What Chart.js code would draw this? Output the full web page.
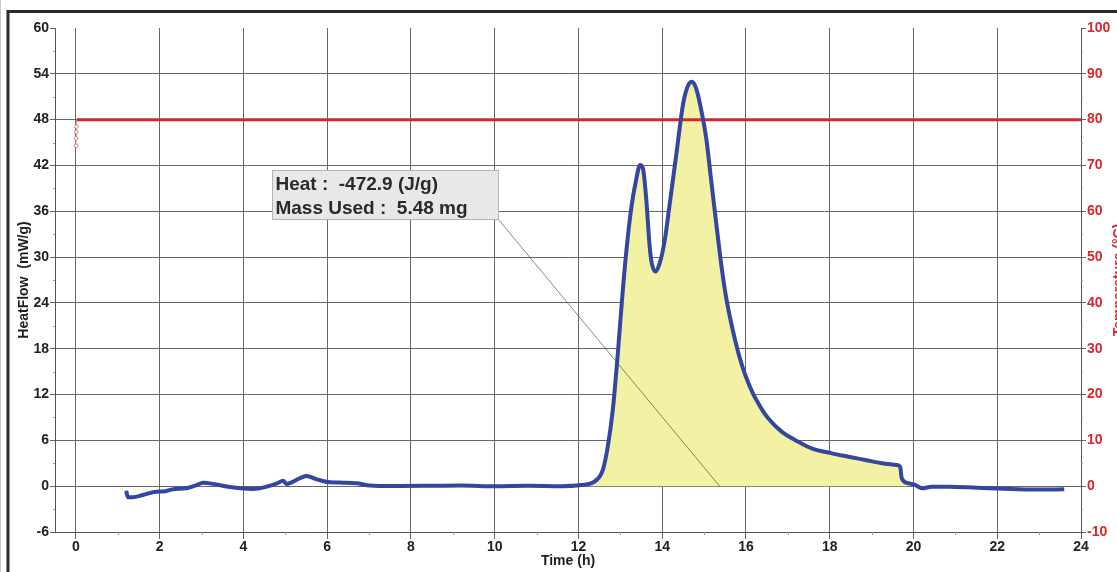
<!DOCTYPE html>
<html>
<head>
<meta charset="utf-8">
<script src="https://cdn.jsdelivr.net/npm/chart.js@4/dist/chart.umd.min.js"></script>
<style>
  html, body { margin: 0; padding: 0; background: #fff; }
  #wrap { width: 1117px; height: 572px; position: relative; }
</style>
</head>
<body>
<div id="wrap"><canvas id="c" width="1117" height="572"></canvas></div>
<script>
// Isothermal heat-flow run: time (h) vs heat flow (mW/g)
const timeH = [
  1.20, 1.24, 1.36, 1.60, 1.92, 2.08, 2.32, 2.64, 2.88, 3.04,
  3.28, 3.60, 3.92, 4.23, 4.56, 4.80, 4.95, 5.03, 5.19, 5.39,
  5.51, 5.75, 6.07, 6.39, 6.71, 6.95, 7.35, 7.74, 8.50, 9.20,
  10.00, 10.80, 11.58, 12.06, 12.38, 12.58, 12.70, 12.82, 12.94, 13.04,
  13.14, 13.26, 13.38, 13.47, 13.54, 13.62, 13.70, 13.75, 13.84, 13.94,
  14.06, 14.17, 14.34, 14.50, 14.62, 14.71, 14.81, 14.93, 15.05, 15.17,
  15.29, 15.41, 15.53, 15.67, 15.81, 15.93, 16.05, 16.17, 16.29, 16.41,
  16.53, 16.85, 17.25, 17.57, 18.05, 18.45, 18.85, 19.25, 19.60, 19.68,
  19.72, 19.88, 20.04, 20.20, 20.44, 20.84, 21.50, 22.00, 22.50, 23.00,
  23.60
];
const heatFlow = [
  -0.60, -1.45, -1.45, -1.15, -0.72, -0.70, -0.40, -0.28, 0.15, 0.46,
  0.30, -0.05, -0.28, -0.37, -0.05, 0.38, 0.72, 0.29, 0.60, 1.16,
  1.33, 0.90, 0.50, 0.46, 0.38, 0.12, 0.03, 0.03, 0.05, 0.08,
  0.00, 0.05, 0.00, 0.15, 0.60, 2.10, 5.20, 10.00, 17.40, 24.40,
  30.60, 36.40, 40.20, 42.06, 41.60, 37.50, 31.40, 29.20, 28.10, 29.20,
  32.20, 36.60, 43.60, 50.10, 52.50, 52.97, 52.10, 49.30, 45.60, 40.00,
  34.40, 29.00, 24.60, 20.80, 17.60, 15.40, 13.60, 12.10, 10.90, 9.80,
  8.90, 7.14, 5.83, 4.96, 4.30, 3.86, 3.43, 3.00, 2.78, 2.55,
  1.03, 0.38, 0.16, -0.28, -0.07, -0.07, -0.20, -0.30, -0.40, -0.45,
  -0.40
];

// Sample temperature (°C), right axis
const tempTime = [0.000, 0.004, 0.008, 0.012, 0.020, 24.0];
const tempC    = [74.3, 75.9, 77.3, 78.5, 80.0, 80.0];

// Integrated exotherm window
const peakStart = 12.0;
const peakEnd = 19.9;

// Axis ticks
const timeTicks = [0, 2, 4, 6, 8, 10, 12, 14, 16, 18, 20, 22, 24];
const heatTicks = [-6, 0, 6, 12, 18, 24, 30, 36, 42, 48, 54, 60];
const tempTicks = [-10, 0, 10, 20, 30, 40, 50, 60, 70, 80, 90, 100];
const timeMinor = [1, 3, 5, 7, 9, 11, 13, 15, 17, 19, 21, 23];
const heatMinor = [-3, 3, 9, 15, 21, 27, 33, 39, 45, 51, 57];
const tempMinor = [-5, 5, 15, 25, 35, 45, 55, 65, 75, 85, 95];

// Axis titles
const xTitle = 'Time (h)';
const yTitle = 'HeatFlow  (mW/g)';
const y2Title = 'Temperature (°C)';

// Result callout
const calloutLines = ['Heat :  -472.9 (J/g)', 'Mass Used :  5.48 mg'];
const calloutAnchor = { x: 4.68, y: 41.4 };   // top-left corner, data units
const calloutTarget = { x: 15.37, y: 0 };     // leader-line end, data units

const FONT = "'Liberation Sans', Arial, Helvetica, sans-serif";
const RED = '#d8262c';
const BLUE = '#3446a2';
const GRID = '#666';

Chart.defaults.font.family = FONT;

const heatPts = timeH.map((t, i) => ({ x: t, y: heatFlow[i] }));
const peakPts = heatPts.filter(p => p.x >= peakStart && p.x <= peakEnd);
const tempPts = tempTime.map((t, i) => ({ x: t, y: tempC[i] }));

const setTicks = vals => scale => { scale.ticks = vals.map(v => ({ value: v })); };

// Outer frame and white background
const framePlugin = {
  id: 'frame',
  beforeDraw(chart) {
    const c = chart.ctx;
    c.save();
    c.fillStyle = '#fff';
    c.fillRect(0, 0, chart.width, chart.height);
    c.strokeStyle = '#c8c8c8';
    c.lineWidth = 1;
    c.beginPath(); c.moveTo(0.5, 0); c.lineTo(0.5, chart.height); c.stroke();
    c.strokeStyle = '#2b2b2b';
    c.lineWidth = 3;
    c.beginPath();
    c.moveTo(8, chart.height + 2);
    c.lineTo(8, 11.5);
    c.lineTo(chart.width + 2, 11.5);
    c.stroke();
    c.restore();
  }
};

// Small minor tick marks outside the axes
const minorTickPlugin = {
  id: 'minorTicks',
  afterDraw(chart) {
    const c = chart.ctx, a = chart.chartArea, s = chart.scales;
    c.save();
    c.strokeStyle = '#9a9a9a';
    c.lineWidth = 1;
    c.beginPath();
    timeMinor.forEach(v => {
      const px = Math.round(s.x.getPixelForValue(v)) + 0.5;
      c.moveTo(px, a.bottom); c.lineTo(px, a.bottom + 3);
    });
    heatMinor.forEach(v => {
      const py = Math.round(s.y.getPixelForValue(v)) + 0.5;
      c.moveTo(a.left - 2, py); c.lineTo(a.left, py);
    });
    tempMinor.forEach(v => {
      const py = Math.round(s.yT.getPixelForValue(v)) + 0.5;
      c.moveTo(a.right, py); c.lineTo(a.right + 2, py);
    });
    c.stroke();
    c.restore();
  }
};

// Axis titles
const titlePlugin = {
  id: 'axisTitles',
  afterDraw(chart) {
    const c = chart.ctx, a = chart.chartArea;
    const midY = (a.top + a.bottom) / 2;
    c.save();
    c.font = 'bold 14px ' + FONT;
    c.textAlign = 'center';
    c.textBaseline = 'middle';
    c.fillStyle = '#1e1e1e';
    c.fillText(xTitle, (a.left + a.right) / 2, 561);
    c.save();
    c.translate(24, midY);
    c.rotate(-Math.PI / 2);
    c.fillText(yTitle, 0, 0);
    c.restore();
    c.save();
    c.translate(1119.5, midY);
    c.rotate(-Math.PI / 2);
    c.fillStyle = RED;
    c.fillText(y2Title, 0, 0);
    c.restore();
    c.restore();
  }
};

// Heat / mass callout with leader line
const calloutPlugin = {
  id: 'callout',
  afterDatasetsDraw(chart) {
    const c = chart.ctx, s = chart.scales;
    const bx = s.x.getPixelForValue(calloutAnchor.x);
    const by = s.y.getPixelForValue(calloutAnchor.y);
    c.save();
    c.font = 'bold 19px ' + FONT;
    const tw = Math.max(...calloutLines.map(l => c.measureText(l).width));
    const bw = tw + 34, bh = 49;
    const tx = s.x.getPixelForValue(calloutTarget.x);
    const ty = s.y.getPixelForValue(calloutTarget.y);
    c.strokeStyle = 'rgba(95,70,70,0.85)';
    c.lineWidth = 0.8;
    c.beginPath();
    c.moveTo(bx + bw, by + bh);
    c.lineTo(tx, ty);
    c.stroke();
    c.fillStyle = '#e8e8e8';
    c.fillRect(bx, by, bw, bh);
    c.strokeStyle = '#b4b4b4';
    c.lineWidth = 1;
    c.strokeRect(Math.round(bx) + 0.5, Math.round(by) + 0.5, Math.round(bw), bh);
    c.fillStyle = '#2a2a2a';
    c.textAlign = 'left';
    c.textBaseline = 'alphabetic';
    c.fillText(calloutLines[0], bx + 3.5, by + 20);
    c.fillText(calloutLines[1], bx + 3.5, by + 43.5);
    c.restore();
  }
};

const tickFont = { family: FONT, size: 14, weight: 'bold' };

new Chart(document.getElementById('c'), {
  type: 'line',
  data: {
    datasets: [
      {
        label: 'Heat flow',
        data: heatPts,
        yAxisID: 'y',
        borderColor: BLUE,
        borderWidth: 4,
        pointRadius: 0,
        cubicInterpolationMode: 'monotone',
        fill: false,
        order: 1
      },
      {
        label: 'Temperature',
        data: tempPts,
        yAxisID: 'yT',
        borderColor: RED,
        borderWidth: 3,
        pointRadius: ctx => (ctx.dataIndex < 4 ? 1.8 : 0),
        pointBorderColor: '#e07a7a',
        pointBackgroundColor: '#fff',
        pointBorderWidth: 1,
        segment: {
          borderWidth: ctx => (ctx.p0DataIndex < 4 ? 1 : 3),
          borderColor: ctx => (ctx.p0DataIndex < 4 ? '#eaa8a8' : RED)
        },
        fill: false,
        order: 2
      },
      {
        label: 'Exotherm',
        data: peakPts,
        yAxisID: 'y',
        borderWidth: 0,
        borderColor: 'rgba(0,0,0,0)',
        backgroundColor: '#f3f1a3',
        pointRadius: 0,
        cubicInterpolationMode: 'monotone',
        fill: { value: 0 },
        order: 3
      }
    ]
  },
  options: {
    responsive: false,
    animation: false,
    events: [],
    layout: { padding: { top: 28, left: 0, right: 0, bottom: 0 } },
    plugins: { legend: { display: false }, tooltip: { enabled: false } },
    scales: {
      x: {
        type: 'linear',
        min: -0.5,
        max: 24,
        afterBuildTicks: setTicks(timeTicks),
        afterFit: s => { s.height = 40; },
        border: { display: true, color: '#555', width: 1 },
        grid: {
          color: ctx => (ctx.tick && ctx.tick.value === 24 ? 'rgba(0,0,0,0)' : GRID),
          tickColor: GRID,
          lineWidth: 1,
          tickLength: 7
        },
        ticks: { font: tickFont, color: '#222', padding: 0, maxRotation: 0, autoSkip: false }
      },
      y: {
        type: 'linear',
        position: 'left',
        min: -6,
        max: 60,
        afterBuildTicks: setTicks(heatTicks),
        afterFit: s => { s.width = 55; },
        border: { display: true, color: '#555', width: 1 },
        grid: {
          color: ctx => (ctx.tick && (ctx.tick.value === 60 || ctx.tick.value === -6) ? 'rgba(0,0,0,0)' : GRID),
          tickColor: GRID,
          lineWidth: 1,
          tickLength: 5
        },
        ticks: { font: tickFont, color: '#222', padding: 1, autoSkip: false }
      },
      yT: {
        type: 'linear',
        position: 'right',
        min: -10,
        max: 100,
        afterBuildTicks: setTicks(tempTicks),
        afterFit: s => { s.width = 36; },
        border: { display: true, color: '#555', width: 1 },
        grid: { drawOnChartArea: false, tickColor: GRID, tickLength: 5 },
        ticks: { font: tickFont, color: RED, padding: 1, autoSkip: false }
      }
    }
  },
  plugins: [framePlugin, minorTickPlugin, titlePlugin, calloutPlugin]
});
</script>
</body>
</html>
